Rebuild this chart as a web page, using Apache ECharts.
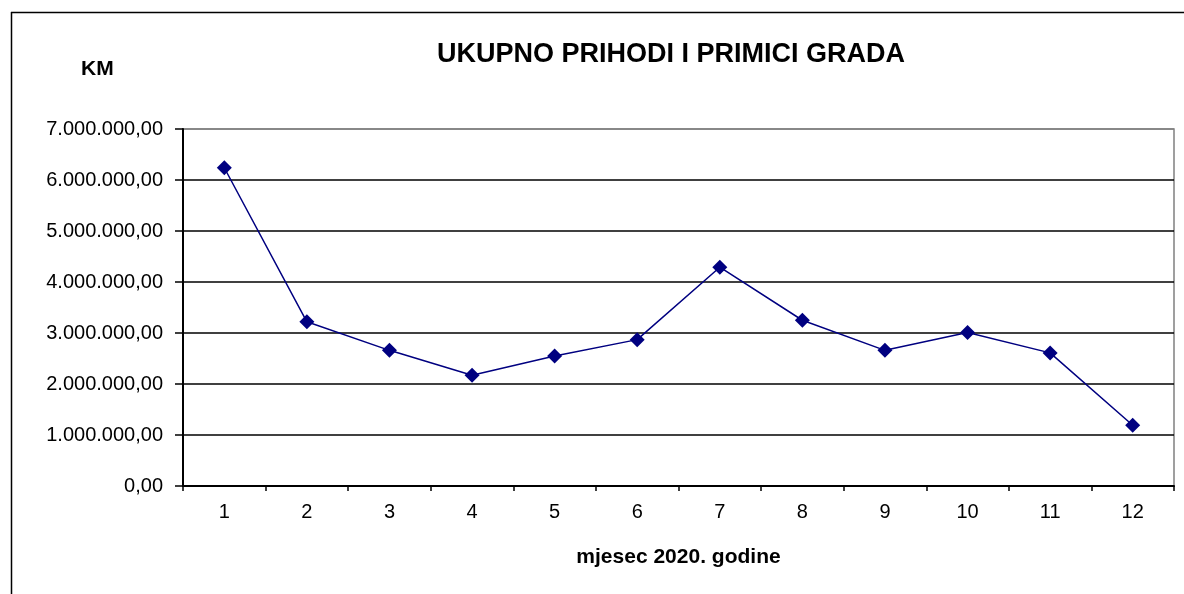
<!DOCTYPE html>
<html>
<head>
<meta charset="utf-8">
<script src="https://cdn.jsdelivr.net/npm/echarts@6/dist/echarts.min.js"></script>
<style>
html,body{margin:0;padding:0;background:#fff;}
#c{width:1184px;height:594px;}
</style>
</head>
<body>
<div id="c"></div>
<script>
const titleText = 'UKUPNO PRIHODI I PRIMICI GRADA';
const unitText = 'KM';
const xName = 'mjesec 2020. godine';
const months = ['1','2','3','4','5','6','7','8','9','10','11','12'];
const values = [6240000, 3220000, 2660000, 2170000, 2550000, 2870000, 4290000, 3250000, 2660000, 3010000, 2610000, 1190000];
const yMin = 0, yMax = 7000000, yStep = 1000000;

function fmt(v){
  const s = Math.round(v).toString().replace(/\B(?=(\d{3})+(?!\d))/g, '.');
  return s + ',00';
}

const FONT = '"Liberation Sans", Arial, sans-serif';
const chart = echarts.init(document.getElementById('c'), null, {renderer:'canvas'});
chart.setOption({
  animation:false,
  backgroundColor:'#fff',
  textStyle:{fontFamily:FONT},
  title:[{
    text:titleText, left:666, top:36, textAlign:'center',
    textStyle:{fontFamily:FONT, fontSize:27, fontWeight:'bold', color:'#000'}
  },{
    text:unitText, left:76, top:54,
    textStyle:{fontFamily:FONT, fontSize:21, fontWeight:'bold', color:'#000'}
  }],
  graphic:[
    {type:'line', shape:{x1:11.5,y1:12,x2:11.5,y2:594}, style:{stroke:'#000', lineWidth:1.5}},
    {type:'line', shape:{x1:11,y1:12.5,x2:1184,y2:12.5}, style:{stroke:'#000', lineWidth:1.5}}
  ],
  grid:{left:183, right:10, top:129, bottom:108, show:true, borderColor:'#808080', borderWidth:1.5, backgroundColor:'transparent'},
  xAxis:{
    type:'category', data:months, boundaryGap:true,
    name:xName, nameLocation:'middle', nameGap:61,
    nameTextStyle:{fontFamily:FONT, fontSize:21, fontWeight:'bold', color:'#000'},
    axisLine:{lineStyle:{color:'#000', width:2}},
    axisTick:{show:true, interval:0, length:5, lineStyle:{color:'#000', width:1.5}},
    axisLabel:{fontFamily:FONT, fontSize:20, color:'#000', margin:16, interval:0},
    splitLine:{show:false}
  },
  yAxis:{
    type:'value', min:yMin, max:yMax, interval:yStep,
    axisLine:{show:true, lineStyle:{color:'#000', width:2}},
    axisTick:{show:true, length:8, lineStyle:{color:'#000', width:1.5}},
    axisLabel:{fontFamily:FONT, fontSize:20, color:'#000', margin:20, formatter:fmt},
    splitLine:{show:true, lineStyle:{color:['#000','#000','#000','#000','#000','#000','#000','#808080'], width:1.5}}
  },
  series:[{
    type:'line', data:values,
    symbol:'diamond', symbolSize:15,
    itemStyle:{color:'#000080'},
    lineStyle:{color:'#000080', width:1.5}
  }]
});
</script>
</body>
</html>
